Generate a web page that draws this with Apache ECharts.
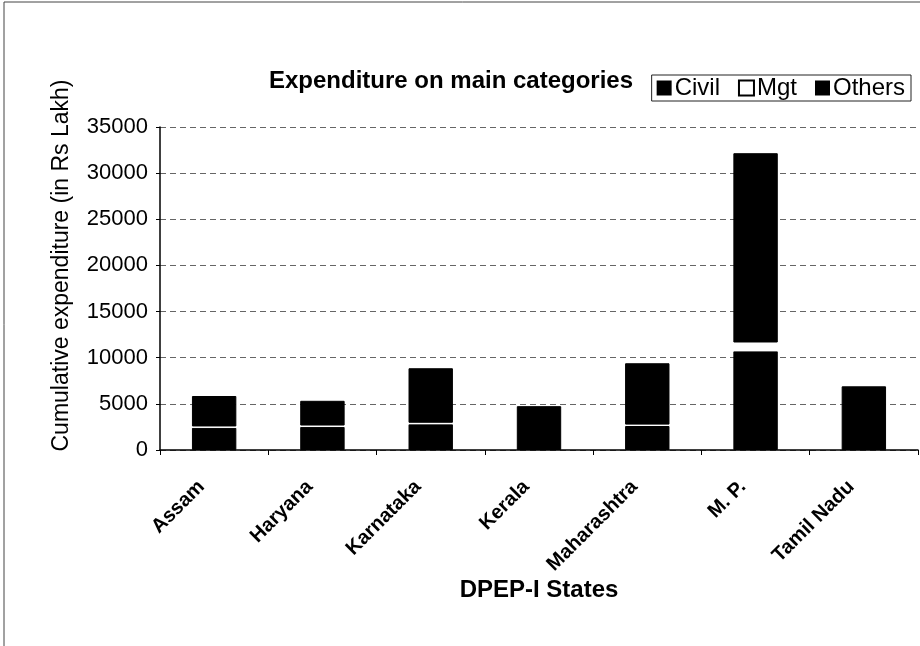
<!DOCTYPE html>
<html>
<head>
<meta charset="utf-8">
<script src="https://cdn.jsdelivr.net/npm/echarts@6/dist/echarts.min.js"></script>
<style>
  html, body { margin: 0; padding: 0; background: #fff; }
  #chart { width: 920px; height: 646px; }
</style>
</head>
<body>
<div id="chart"></div>
<script>
  'use strict'

  // Kerala and Tamil Nadu show no visible split in the picture
  var states = ['Assam', 'Haryana', 'Karnataka', 'Kerala', 'Maharashtra', 'M. P.', 'Tamil Nadu'];
  var civil = [2400, 2500, 2800, 4750, 2600, 10700, 6900];
  var mgt = [150, 150, 150, null, 150, 950, null];
  var others = [3300, 2680, 5910, null, 6650, 20510, null];
  var yTicks = [0, 5000, 10000, 15000, 20000, 25000, 30000, 35000];

  var font = 'Liberation Sans, Arial, sans-serif';

  var chart = echarts.init(document.getElementById('chart'));

  var blackBar = { color: '#000', borderColor: '#000', borderWidth: 1 };

  var option = {
    animation: false,
    textStyle: { fontFamily: font, color: '#000' },
    title: {
      text: 'Expenditure on main categories',
      left: 446,
      top: 64,
      textAlign: 'center',
      textStyle: { fontSize: 24, fontWeight: 'bold', color: '#000', fontFamily: font }
    },
    legend: {
      right: 9,
      top: 75,
      icon: 'rect',
      itemWidth: 15,
      itemHeight: 15,
      itemGap: 18,
      padding: [1, 6, 1, 5],
      borderColor: '#222',
      borderWidth: 1,
      textStyle: { fontSize: 24, color: '#000', padding: [0, 0, 0, -2] },
      data: [
        { name: 'Civil', itemStyle: { color: '#000', borderWidth: 0 } },
        { name: 'Mgt', itemStyle: { color: '#fff', borderColor: '#000', borderWidth: 2 } },
        { name: 'Others', itemStyle: { color: '#000', borderWidth: 0 } }
      ]
    },
    grid: {
      left: 160,
      right: 2,
      top: 127,
      bottom: 196
    },
    xAxis: {
      type: 'category',
      data: states,
      name: 'DPEP-I States',
      nameLocation: 'middle',
      nameGap: 127,
      nameTextStyle: { fontSize: 24, fontWeight: 'bold', color: '#000' },
      axisLine: { lineStyle: { color: '#000', width: 1.5 } },
      axisTick: { show: true, lineStyle: { color: '#000' } },
      axisLabel: {
        rotate: 45,
        fontSize: 20,
        fontWeight: 'bold',
        color: '#000',
        margin: 21,
        padding: [0, 18, 0, 0]
      }
    },
    yAxis: {
      type: 'value',
      min: yTicks[0],
      max: yTicks[yTicks.length - 1],
      interval: yTicks[1] - yTicks[0],
      name: 'Cumulative expenditure (in Rs Lakh)',
      nameLocation: 'middle',
      nameGap: 87,
      nameTextStyle: { fontSize: 23, color: '#000', padding: [0, 0, 0, 46] },
      axisLine: { show: true, lineStyle: { color: '#000', width: 1.5 } },
      axisTick: { show: true, length: 4, lineStyle: { color: '#000' } },
      axisLabel: {
        fontSize: 22,
        color: '#000',
        margin: 12,
        formatter: function (v) { return String(v); }
      },
      splitLine: { lineStyle: { color: '#666', type: [6, 4], width: 1 } }
    },
    series: [
      { name: 'Civil', type: 'bar', stack: 'all', data: civil, barWidth: '41%', itemStyle: blackBar },
      { name: 'Mgt', type: 'bar', stack: 'all', data: mgt, itemStyle: { color: '#fff' } },
      { name: 'Others', type: 'bar', stack: 'all', data: others, itemStyle: blackBar }
    ],
    graphic: [
      {
        type: 'rect',
        shape: { x: 4, y: 2, width: 1000, height: 700 },
        style: { fill: 'none', stroke: '#444', lineWidth: 1 },
        silent: true
      }
    ]
  };

  chart.setOption(option);
</script>
</body>
</html>
